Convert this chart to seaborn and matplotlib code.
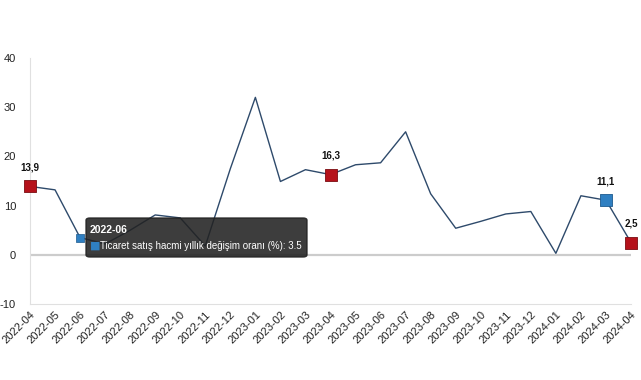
import numpy as np
import pandas as pd
import matplotlib
matplotlib.use("Agg")
import matplotlib.pyplot as plt
from matplotlib.patches import FancyBboxPatch
import seaborn as sns

months = ["2022-04", "2022-05", "2022-06", "2022-07", "2022-08", "2022-09", "2022-10",
          "2022-11", "2022-12", "2023-01", "2023-02", "2023-03", "2023-04", "2023-05",
          "2023-06", "2023-07", "2023-08", "2023-09", "2023-10", "2023-11", "2023-12",
          "2024-01", "2024-02", "2024-03", "2024-04"]
values = [13.9, 13.2, 3.5, 2.2, 5.0, 8.1, 7.5, 1.8, 17.5, 32.0, 14.9, 17.3, 16.3, 18.3,
          18.7, 25.0, 12.4, 5.4, 6.8, 8.3, 8.8, 0.3, 12.0, 11.1, 2.5]

# highlighted points
red_months = ["2022-04", "2023-04", "2024-04"]
blue_months = ["2024-03"]
labelled = ["2022-04", "2023-04", "2024-03", "2024-04"]

tooltip_month = "2022-06"
series_name = "Ticaret satış hacmi yıllık değişim oranı (%)"

df = pd.DataFrame({"ay": months, "deger": values})
df["pos"] = np.arange(len(df))
df["grup"] = np.where(df["ay"].isin(red_months), "kirmizi",
                      np.where(df["ay"].isin(blue_months), "mavi", "yok"))

sns.set_style("white")
plt.rcParams["font.family"] = ["Liberation Sans", "DejaVu Sans"]

fig = plt.figure(figsize=(6.41, 3.80), dpi=100)
ax = fig.add_axes([30 / 641, 76 / 380, 601 / 641, 246 / 380])

line_col = "#2e4a6b"
sns.lineplot(data=df, x="pos", y="deger", color=line_col, linewidth=1.0, ax=ax)

red = df[df["grup"] == "kirmizi"]
blue = df[df["grup"] == "mavi"]
sns.scatterplot(data=red, x="pos", y="deger", marker="s", color="#b5121b",
                edgecolor="#7a0c12", linewidth=0.6, s=80, legend=False, ax=ax,
                zorder=5, clip_on=False)
sns.scatterplot(data=blue, x="pos", y="deger", marker="s", color="#2f7fc1",
                edgecolor="#1d5a8e", linewidth=0.6, s=80, legend=False, ax=ax,
                zorder=5, clip_on=False)
# smaller marker for the hovered point
hov = df[df["ay"] == tooltip_month]
sns.scatterplot(data=hov, x="pos", y="deger", marker="s", color="#2f7fc1",
                edgecolor="#1d5a8e", linewidth=0.5, s=32, legend=False, ax=ax, zorder=6)

for _, r in df[df["ay"].isin(labelled)].iterrows():
    ax.annotate(f"{r['deger']:.1f}".replace(".", ","), (r["pos"], r["deger"]),
                xytext=(0, 10), textcoords="offset points", ha="center", va="bottom",
                fontsize=7, fontweight="bold", color="#111111", annotation_clip=False)

ax.set_xlim(0, len(df) - 1)
ax.set_ylim(-10, 40)
ax.set_yticks([-10, 0, 10, 20, 30, 40])
ax.set_yticklabels(["-10", "0", "10", "20", "30", "40"], fontsize=8, color="#222222")
ax.set_xticks(df["pos"])
ax.set_xticklabels(df["ay"], rotation=45, ha="right", rotation_mode="anchor", fontsize=8,
                   color="#222222")
ax.tick_params(axis="both", length=0, pad=4)
ax.tick_params(axis="y", pad=10)
ax.set_xlabel("")
ax.set_ylabel("")

ax.axhline(0, color="#cccccc", linewidth=1.6, zorder=1)
for s in ["top", "right"]:
    ax.spines[s].set_visible(False)
ax.spines["left"].set_color("#e0e0e0")
ax.spines["bottom"].set_color("#e0e0e0")
ax.spines["left"].set_linewidth(0.8)
ax.spines["bottom"].set_linewidth(0.8)

# tooltip box
hv = hov.iloc[0]
box = FancyBboxPatch((86 / 641, (380 - 257) / 380), 221 / 641, 39 / 380,
                     boxstyle="round,pad=0,rounding_size=0.006", transform=fig.transFigure,
                     facecolor="#222222", edgecolor="#222222", alpha=0.88, zorder=10)
fig.patches.append(box)
fig.text(90 / 641, (380 - 230) / 380, tooltip_month, color="white", fontsize=7.5,
         fontweight="bold", va="center", ha="left", zorder=11)
fig.text(90 / 641, (380 - 246) / 380, "\u25A0", color="#2f7fc1", fontsize=8,
         va="center", ha="left", zorder=11, family="DejaVu Sans")
fig.text(100 / 641, (380 - 246) / 380, f"{series_name}: {hv['deger']}", color="white",
         fontsize=7.0, va="center", ha="left", zorder=11)

fig.savefig("out.png", dpi=100)
